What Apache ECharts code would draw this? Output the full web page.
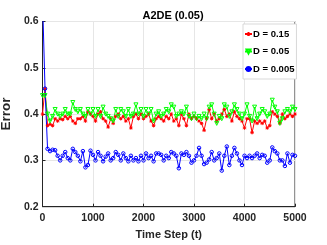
<!DOCTYPE html>
<html><head><meta charset="utf-8">
<script src="https://cdn.jsdelivr.net/npm/echarts@6/dist/echarts.min.js"></script>
<style>html,body{margin:0;padding:0;background:#fff}#c{width:327px;height:245px}</style>
</head><body><div id="c"></div>
<script>
const timeSteps = [];
for (let i = 0; i <= 100; i++) timeSteps.push(i * 50);
const seriesNames = ['D = 0.15', 'D = 0.05', 'D = 0.005'];
const red = [0.40,0.455,0.375,0.378,0.375,0.39,0.385,0.39,0.388,0.395,0.39,0.395,0.385,0.38,0.39,0.39,0.395,0.385,0.405,0.40,
0.395,0.385,0.40,0.405,0.39,0.385,0.372,0.39,0.38,0.395,0.40,0.39,0.395,0.385,0.39,0.37,0.395,0.40,0.39,0.40,
0.39,0.395,0.40,0.385,0.375,0.39,0.395,0.39,0.385,0.395,0.39,0.40,0.385,0.39,0.375,0.40,0.39,0.375,0.40,0.39,
0.395,0.39,0.385,0.38,0.365,0.39,0.41,0.39,0.40,0.385,0.39,0.40,0.41,0.395,0.40,0.385,0.405,0.395,0.39,0.385,
0.37,0.39,0.39,0.36,0.385,0.38,0.385,0.38,0.385,0.37,0.375,0.405,0.40,0.395,0.38,0.40,0.39,0.395,0.40,0.395,0.40];
const green = [0.44,0.44,0.40,0.385,0.395,0.41,0.40,0.395,0.40,0.41,0.40,0.40,0.425,0.41,0.405,0.41,0.40,0.395,0.41,0.40,
0.41,0.395,0.41,0.395,0.415,0.40,0.395,0.39,0.385,0.41,0.395,0.41,0.405,0.395,0.41,0.395,0.40,0.42,0.40,0.41,
0.395,0.41,0.40,0.41,0.385,0.40,0.405,0.395,0.40,0.41,0.405,0.42,0.415,0.395,0.40,0.405,0.40,0.415,0.395,0.39,
0.40,0.39,0.395,0.39,0.40,0.39,0.415,0.42,0.40,0.38,0.395,0.39,0.42,0.415,0.395,0.405,0.42,0.41,0.40,0.39,
0.40,0.42,0.395,0.385,0.415,0.39,0.40,0.41,0.405,0.395,0.40,0.43,0.415,0.405,0.38,0.39,0.405,0.41,0.405,0.415,0.41];
const blue = [0.65,0.455,0.325,0.32,0.323,0.322,0.31,0.30,0.31,0.318,0.305,0.30,0.325,0.318,0.31,0.298,0.32,0.285,0.29,0.321,
0.312,0.30,0.318,0.31,0.298,0.308,0.315,0.30,0.305,0.318,0.312,0.30,0.315,0.305,0.298,0.31,0.30,0.305,0.298,0.31,
0.30,0.315,0.305,0.31,0.298,0.315,0.315,0.312,0.30,0.31,0.305,0.318,0.315,0.31,0.283,0.315,0.312,0.318,0.31,0.295,
0.30,0.31,0.327,0.31,0.292,0.295,0.302,0.318,0.30,0.305,0.315,0.278,0.31,0.33,0.29,0.31,0.327,0.315,0.30,0.29,
0.31,0.305,0.31,0.305,0.31,0.315,0.305,0.312,0.31,0.295,0.30,0.328,0.32,0.315,0.30,0.30,0.288,0.315,0.295,0.312,0.31];
const xTickLabels = ['0', '1000', '2000', '3000', '4000', '5000'];
const yTickLabels = ['0.2', '0.3', '0.4', '0.5', '0.6'];

const FONT = "'Liberation Sans', Arial, sans-serif";
const star = 'path://M5,0L5,10M0,5L10,5M1.5,1.5L8.5,8.5M8.5,1.5L1.5,8.5';
function pairs(arr){ return timeSteps.map((t,i)=>[t, arr[i]]); }

const chart = echarts.init(document.getElementById('c'), null, {renderer:'canvas'});
chart.setOption({
  animation: false,
  backgroundColor: '#fff',
  title: { text: 'A2DE (0.05)', left: 168, top: 5, textAlign: 'center',
    textStyle: { fontFamily: FONT, fontWeight: 'bold', fontSize: 11, color: '#000' } },
  grid: { left: 42.5, right: 32, top: 21.5, bottom: 38.3, containLabel: false, outerBoundsMode: 'none',
    show: true, borderColor: '#262626', borderWidth: 1, backgroundColor: '#fff' },
  legend: {
    left: 243, top: 24, orient: 'vertical', itemGap: 7.5, itemWidth: 7, itemHeight: 5,
    padding: [5, 2, 5, 1], backgroundColor: '#fff', borderColor: '#cfcfcf', borderWidth: 0.8, borderRadius: 0,
    textStyle: { fontFamily: FONT, fontWeight: 'bold', fontSize: 9.5, color: '#000', padding: [0,0,0,-4] },
    data: seriesNames
  },
  xAxis: {
    type: 'value', min: 0, max: 5000, interval: 1000,
    name: 'Time Step (t)', nameLocation: 'middle', nameGap: 23,
    nameTextStyle: { fontFamily: FONT, fontWeight: 'bold', fontSize: 11, color: '#262626' },
    axisLine: { show: true, lineStyle: { color: '#262626', width: 1 } },
    axisTick: { show: true, inside: true, length: 3, lineStyle: { color: '#262626' } },
    axisLabel: { fontFamily: FONT, fontWeight: 'bold', fontSize: 10.5, color: '#262626', margin: 6,
      formatter: v => xTickLabels[Math.round(v / 1000)] },
    splitLine: { show: true, lineStyle: { color: '#e6e6e6', width: 1 } }
  },
  yAxis: {
    type: 'value', min: 0.2, max: 0.6, interval: 0.1,
    name: 'Error', nameLocation: 'middle', nameGap: 14,
    nameTextStyle: { fontFamily: FONT, fontWeight: 'bold', fontSize: 13.5, color: '#262626' },
    axisLine: { show: true, lineStyle: { color: '#262626', width: 1 } },
    axisTick: { show: true, inside: true, length: 3, lineStyle: { color: '#262626' } },
    axisLabel: { fontFamily: FONT, fontWeight: 'bold', fontSize: 10.5, color: '#262626', margin: 4,
      formatter: v => yTickLabels[Math.round((v - 0.2) * 10)] },
    splitLine: { show: true, lineStyle: { color: '#e6e6e6', width: 1 } }
  },
  series: [
    { name: seriesNames[0], type: 'line', data: pairs(red), color: '#ff0000', clip: true,
      symbol: star, symbolSize: 3.5, showSymbol: true,
      lineStyle: { width: 1, color: '#ff0000' }, itemStyle: { color: '#ff0000', borderColor: '#ff0000', borderWidth: 1 } },
    { name: seriesNames[1], type: 'line', data: pairs(green), color: '#00ff00', clip: true,
      symbol: 'triangle', symbolRotate: 180, symbolSize: 4, showSymbol: true,
      lineStyle: { width: 1, color: '#00ff00' }, itemStyle: { color: 'none', borderColor: '#00ff00', borderWidth: 1 } },
    { name: seriesNames[2], type: 'line', data: pairs(blue), color: '#0000ff', clip: true,
      symbol: 'circle', symbolSize: 3.5, showSymbol: true,
      lineStyle: { width: 1, color: '#0000ff' }, itemStyle: { color: 'none', borderColor: '#0000ff', borderWidth: 1 } }
  ]
});
</script></body></html>
